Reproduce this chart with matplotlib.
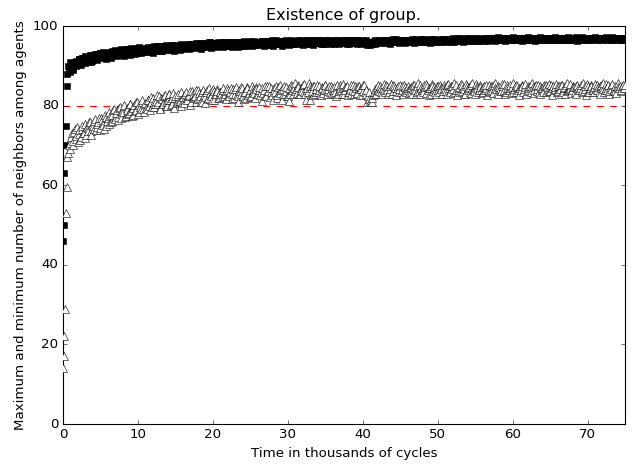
import numpy as np
import matplotlib
matplotlib.use("Agg")
import matplotlib.pyplot as plt

plt.style.use('classic')

# time in thousands of cycles
time_early = np.arange(0.0, 1.0, 0.1)          # 0.0 .. 0.9
time_a = np.linspace(1.0, 75.0, 371)           # 1.0, 1.2, ... 75.0
time_b = np.linspace(1.1, 74.9, 370)           # 1.1, 1.3, ... 74.9

max_early = [46, 50, 63, 70, 75, 85, 88, 90, 89.5, 91]
max_a = [
    88.5, 90.2, 89.4, 91.0, 89.9, 90.8, 91.6, 90.3, 91.9, 91.2, 90.7, 92.1, 91.5, 92.6, 91.0, 92.3, 91.8, 92.9, 91.4, 92.5, 93.1, 91.9, 92.7, 93.3, 92.2,
    92.8, 93.5, 91.9, 93.2, 92.6, 93.8, 92.4, 93.4, 94.0, 92.9, 93.6, 92.5, 94.1, 93.2, 93.9, 92.8, 94.3, 93.5, 93.0, 94.4, 93.3, 94.0, 93.1, 94.5, 93.7,
    94.2, 93.4, 94.7, 93.8, 94.4, 93.2, 94.9, 94.0, 93.6, 95.0, 94.3, 93.7, 94.8, 94.1, 95.2, 93.9, 94.6, 94.2, 95.3, 93.8, 94.9, 94.4, 95.1, 94.0, 95.4,
    94.3, 95.2, 94.6, 95.5, 94.1, 95.0, 94.7, 95.6, 94.4, 95.3, 94.8, 95.7, 94.2, 95.1, 95.8, 94.6, 95.4, 94.9, 95.9, 94.5, 95.3, 95.0, 95.8, 94.7, 95.5,
    95.0, 95.9, 94.6, 95.4, 95.8, 94.9, 96.0, 95.2, 94.7, 95.7, 95.3, 96.1, 94.8, 95.5, 95.9, 95.1, 96.0, 94.9, 95.6, 95.3, 96.2, 95.0, 95.8, 95.4, 96.1,
    95.2, 95.9, 95.5, 96.2, 94.9, 95.7, 96.3, 95.3, 95.8, 96.1, 95.0, 95.6, 96.4, 95.4, 95.9, 96.2, 95.1, 95.7, 96.3, 95.5, 96.0, 95.3, 96.4, 95.8, 95.6,
    96.1, 95.4, 96.4, 95.8, 96.2, 95.2, 96.0, 96.5, 95.6, 96.1, 95.9, 96.4, 95.3, 95.8, 96.3, 95.7, 96.5, 95.5, 96.0, 96.2, 95.4, 96.4, 95.9, 96.1, 95.6,
    96.3, 95.6, 96.0, 96.5, 95.5, 96.2, 95.9, 96.6, 95.7, 96.1, 96.4, 95.4, 96.0, 96.5, 95.8, 96.3, 95.6, 96.6, 96.0, 95.5, 96.2, 95.8, 96.4, 95.3, 95.7,
    95.2, 95.6, 96.0, 95.5, 96.3, 95.9, 96.5, 95.7, 96.2, 96.6, 95.8, 96.1, 96.4, 95.6, 96.3, 96.7, 95.9, 96.2, 96.5, 95.7, 96.4, 96.0, 96.6, 95.8, 96.3,
    96.5, 95.9, 96.3, 96.7, 95.8, 96.2, 96.6, 96.0, 96.4, 96.8, 95.9, 96.3, 96.5, 96.1, 96.7, 95.8, 96.4, 96.2, 96.8, 96.0, 96.5, 96.3, 96.7, 95.9, 96.4,
    96.6, 96.1, 96.8, 96.3, 96.5, 96.9, 96.0, 96.4, 96.7, 96.2, 96.9, 96.5, 96.1, 96.6, 97.0, 96.3, 96.7, 96.4, 96.9, 96.2, 96.6, 96.8, 96.3, 97.0, 96.5,
    96.8, 96.2, 96.7, 97.1, 96.4, 96.9, 96.5, 97.0, 96.3, 96.8, 97.2, 96.5, 96.9, 96.6, 97.1, 96.3, 96.7, 97.0, 96.4, 96.9, 97.2, 96.6, 96.8, 96.4, 97.1,
    96.7, 96.3, 97.0, 96.5, 96.9, 97.2, 96.4, 96.8, 96.6, 97.1, 96.3, 96.9, 96.7, 97.2, 96.5, 96.8, 97.0, 96.4, 96.9, 96.6, 97.1, 96.5, 96.8, 97.2, 96.6,
    96.9, 96.4, 97.1, 96.7, 96.5, 97.0, 96.8, 97.3, 96.4, 96.9, 96.6, 97.1, 96.8, 96.3, 97.0, 96.7, 97.2, 96.5, 96.9, 96.6, 97.1, 96.8, 96.4, 97.0, 96.7,
    97.2, 96.5, 96.9, 96.7, 97.1, 96.4, 96.8, 97.2, 96.6, 97.0, 96.7, 97.3, 96.5, 96.9, 96.6, 97.1, 96.8, 96.5, 97.0, 96.7, 96.9,
]
max_b = [
    89.8, 88.9, 90.6, 91.3, 90.1, 91.7, 90.5, 92.0, 91.1, 92.4, 91.6, 90.9, 92.2, 92.8, 91.3, 92.6, 93.0, 92.0, 92.4, 93.2, 92.1, 93.4, 92.6, 91.8, 93.0,
    93.3, 92.3, 93.7, 92.9, 94.0, 93.1, 93.6, 92.7, 94.2, 93.4, 93.9, 92.9, 94.3, 93.6, 93.1, 94.5, 93.8, 93.3, 94.2, 93.6, 94.6, 93.5, 94.1, 93.4, 94.3,
    93.7, 94.5, 94.0, 93.5, 94.8, 94.3, 93.9, 95.0, 94.2, 94.6, 93.8, 95.1, 94.5, 94.1, 95.0, 94.4, 93.9, 95.2, 94.7, 94.3, 95.3, 94.6, 94.2, 95.0, 94.8,
    94.9, 94.4, 95.3, 94.8, 95.6, 94.5, 95.2, 94.9, 95.7, 94.6, 95.4, 95.0, 95.8, 94.7, 95.3, 95.6, 94.9, 95.9, 95.2, 94.8, 95.7, 95.4, 95.0, 95.9, 95.3,
    95.5, 95.1, 96.0, 95.3, 95.7, 95.0, 95.9, 95.5, 96.1, 95.2, 95.8, 95.4, 96.0, 95.1, 95.7, 96.2, 95.3, 95.6, 96.0, 95.2, 95.9, 95.5, 96.2, 95.3, 95.7,
    96.0, 95.4, 96.2, 95.6, 95.9, 96.3, 95.2, 96.0, 95.5, 96.4, 95.7, 96.1, 95.4, 96.3, 95.8, 95.5, 96.2, 95.9, 96.4, 95.6, 96.1, 95.8, 96.3, 95.4, 96.0,
    95.7, 96.3, 95.9, 96.5, 95.6, 96.2, 95.8, 96.4, 96.0, 95.5, 96.3, 95.9, 96.6, 95.7, 96.1, 96.4, 95.8, 96.2, 95.6, 96.5, 96.0, 95.8, 96.3, 95.7, 96.4,
    95.9, 96.4, 96.1, 95.7, 96.3, 96.0, 96.5, 95.8, 96.2, 95.6, 96.4, 96.1, 95.9, 96.6, 96.2, 95.7, 96.4, 96.1, 95.8, 96.5, 96.0, 96.3, 95.6, 96.1, 95.5,
    95.4, 95.9, 96.2, 96.4, 95.8, 96.1, 96.3, 96.0, 96.5, 95.9, 96.4, 96.2, 95.8, 96.6, 96.1, 96.4, 96.0, 96.7, 96.2, 96.5, 95.9, 96.3, 96.1, 96.6, 96.0,
    96.2, 96.6, 96.1, 96.4, 96.0, 96.7, 96.3, 96.5, 96.1, 96.4, 96.7, 96.2, 96.0, 96.6, 96.4, 96.2, 96.7, 96.5, 96.1, 96.6, 96.3, 96.0, 96.5, 96.8, 96.2,
    96.4, 96.7, 96.3, 96.6, 96.1, 96.8, 96.5, 96.2, 96.9, 96.4, 96.7, 96.3, 96.8, 96.5, 96.2, 96.9, 96.6, 96.3, 96.7, 96.5, 96.9, 96.4, 96.7, 96.2, 96.8,
    96.5, 96.9, 96.6, 96.3, 97.0, 96.7, 96.4, 96.9, 96.6, 97.1, 96.4, 96.7, 96.9, 96.5, 96.8, 97.0, 96.4, 96.8, 96.6, 97.1, 96.5, 96.9, 96.7, 97.0, 96.6,
    96.9, 96.6, 96.8, 97.1, 96.5, 96.9, 97.0, 96.6, 96.8, 96.4, 97.0, 96.7, 96.9, 96.5, 97.1, 96.8, 96.6, 97.0, 96.7, 96.9, 96.4, 97.0, 96.7, 96.9, 97.1,
    96.6, 96.9, 96.7, 97.0, 96.5, 96.8, 97.1, 96.6, 97.0, 96.8, 96.5, 96.9, 97.2, 96.7, 96.9, 96.5, 97.0, 96.8, 97.1, 96.7, 96.9, 96.6, 97.1, 96.8, 97.0,
    96.8, 97.0, 96.6, 97.1, 96.8, 97.0, 96.7, 96.9, 97.1, 96.8, 96.5, 97.0, 96.9, 96.7, 97.1, 96.8, 97.0, 96.6, 96.9, 97.1,
]

min_early = [14, 17, 22, 29, 53, 59.5, 67, 68, 70, 69]
min_a = [
    70.5, 73.0, 71.2, 74.1, 72.3, 70.9, 73.8, 72.0, 75.0, 73.2, 71.8, 74.6, 73.5, 75.8, 72.7, 74.9, 76.2, 73.9, 75.4, 77.0, 74.3, 76.5, 75.1, 77.6, 74.8,
    76.8, 78.4, 75.9, 77.7, 79.2, 76.6, 78.8, 77.2, 79.6, 76.9, 78.3, 80.1, 77.5, 79.0, 78.1, 80.4, 77.3, 79.5, 78.6, 80.8, 77.9, 80.2, 79.1, 81.3, 78.4,
    80.6, 79.2, 81.5, 78.8, 80.9, 82.0, 79.6, 81.2, 80.3, 82.4, 79.1, 81.7, 80.5, 82.6, 79.9, 81.3, 82.9, 80.2, 81.8, 79.4, 82.5, 80.8, 83.0, 81.1, 79.8,
    82.2, 80.6, 83.3, 81.4, 82.7, 80.1, 83.6, 81.9, 82.4, 80.8, 83.8, 82.0, 81.2, 83.4, 82.6, 80.7, 84.0, 81.8, 83.1, 82.3, 84.2, 81.5, 82.9, 83.7, 81.9,
    83.5, 82.1, 84.3, 82.8, 81.6, 83.9, 82.4, 84.5, 83.0, 81.9, 84.1, 82.7, 80.9, 83.6, 84.6, 82.5, 83.3, 81.8, 84.4, 83.1, 82.2, 84.8, 83.5, 82.0, 84.2,
    82.8, 84.6, 83.4, 81.2, 84.0, 82.5, 85.0, 83.7, 82.2, 84.5, 81.3, 83.9, 84.9, 82.7, 83.5, 85.1, 81.4, 84.2, 83.0, 84.7, 82.4, 81.2, 85.2, 83.8, 84.3,
    85.6, 83.2, 84.6, 82.9, 84.0, 85.3, 83.5, 81.3, 84.4, 85.7, 81.4, 83.7, 84.9, 82.8, 84.2, 83.3, 85.0, 82.6, 84.5, 83.9, 85.2, 82.9, 84.1, 83.4, 84.8,
    83.1, 84.7, 82.5, 85.1, 83.6, 84.3, 82.8, 85.4, 83.9, 84.6, 82.7, 83.5, 85.2, 84.0, 82.9, 84.8, 83.3, 85.0, 82.6, 84.2, 83.7, 85.3, 82.8, 81.0, 83.4,
    81.2, 80.9, 82.6, 84.1, 83.0, 85.2, 83.7, 84.5, 82.8, 85.4, 83.4, 84.8, 82.9, 84.2, 85.5, 83.6, 84.9, 82.7, 84.4, 83.3, 85.1, 83.9, 82.8, 84.6, 83.5,
    85.0, 83.2, 84.7, 82.9, 85.3, 84.0, 83.5, 85.6, 82.8, 84.4, 83.8, 85.2, 83.1, 84.9, 82.6, 84.3, 85.5, 83.7, 84.1, 82.9, 85.0, 83.4, 84.6, 83.0, 85.3,
    84.2, 82.8, 85.4, 83.6, 84.8, 83.1, 85.7, 84.0, 82.7, 84.5, 83.3, 85.1, 84.3, 82.9, 85.5, 83.8, 84.6, 83.2, 85.8, 84.1, 82.8, 84.9, 83.5, 85.2, 84.0,
    83.3, 85.0, 84.4, 82.7, 85.3, 83.7, 84.8, 83.1, 85.6, 84.2, 82.9, 84.7, 83.6, 85.4, 84.0, 82.8, 85.1, 83.9, 84.5, 83.2, 85.7, 84.1, 83.4, 84.9, 82.6,
    84.3, 85.2, 83.5, 84.7, 82.9, 85.0, 83.8, 84.4, 85.6, 83.2, 84.8, 83.6, 85.3, 82.8, 84.5, 83.9, 85.1, 83.3, 84.6, 85.5, 83.7, 82.7, 84.9, 84.2, 85.4,
    83.6, 84.8, 83.0, 85.2, 84.3, 82.9, 85.6, 83.8, 84.5, 83.2, 85.0, 84.6, 82.8, 85.3, 83.9, 84.4, 83.4, 85.7, 84.1, 82.7, 84.8, 83.5, 85.2, 84.0, 83.3,
    85.4, 83.8, 84.6, 82.9, 85.1, 84.2, 83.4, 85.5, 84.0, 82.8, 84.7, 85.3, 83.6, 84.9, 83.1, 85.6, 84.3, 83.7, 85.0, 84.4, 85.2,
]
min_b = [
    72.1, 70.2, 73.4, 71.6, 74.5, 72.8, 71.4, 74.0, 73.0, 75.4, 72.5, 74.3, 76.0, 73.6, 75.2, 74.1, 76.6, 74.6, 75.8, 73.8, 76.9, 75.6, 74.2, 77.2, 76.1,
    75.3, 77.5, 76.2, 78.9, 77.0, 78.1, 76.4, 79.4, 77.8, 78.6, 80.0, 77.1, 79.3, 78.0, 80.5, 78.7, 77.6, 80.2, 79.0, 80.9, 78.3, 79.7, 81.0, 79.2, 80.4,
    79.5, 81.3, 80.0, 82.2, 79.7, 81.0, 80.4, 82.7, 80.9, 79.3, 81.9, 80.6, 82.3, 81.0, 80.0, 82.8, 81.5, 80.4, 83.1, 81.8, 80.7, 82.4, 81.2, 83.3, 80.9,
    81.3, 83.0, 81.9, 82.5, 83.7, 81.0, 82.8, 82.1, 84.0, 81.6, 83.2, 82.4, 80.9, 83.9, 82.2, 83.5, 81.7, 84.3, 82.7, 81.4, 83.6, 82.8, 84.1, 82.0, 83.3,
    82.9, 84.0, 82.3, 83.7, 84.5, 82.6, 83.4, 81.7, 84.2, 83.0, 84.7, 82.4, 83.8, 82.9, 84.3, 81.6, 83.5, 84.6, 82.7, 83.9, 82.5, 84.1, 83.2, 84.7, 82.8,
    83.9, 82.6, 84.4, 83.1, 84.8, 82.3, 83.6, 84.9, 83.3, 82.7, 84.3, 83.5, 81.8, 84.6, 83.2, 84.0, 82.9, 85.0, 83.6, 82.5, 84.4, 83.0, 84.9, 82.8, 83.7,
    84.2, 85.1, 83.0, 84.5, 83.6, 85.4, 82.9, 84.0, 83.4, 85.0, 84.3, 82.7, 84.8, 83.5, 85.3, 83.9, 82.8, 84.6, 83.2, 85.1, 84.0, 83.6, 84.9, 82.9, 84.4,
    84.0, 83.3, 84.9, 82.9, 85.2, 83.8, 84.5, 83.0, 84.7, 85.0, 83.4, 84.2, 82.8, 85.3, 83.6, 84.4, 83.1, 84.9, 84.1, 82.7, 85.1, 83.5, 84.0, 82.4, 81.6,
    80.8, 81.9, 83.5, 82.8, 84.6, 83.9, 85.0, 83.3, 84.5, 83.8, 85.1, 84.0, 83.5, 84.9, 83.0, 85.2, 84.3, 83.7, 85.0, 84.1, 83.4, 84.8, 85.3, 83.6, 84.4,
    83.9, 84.5, 83.4, 85.1, 84.2, 82.9, 84.8, 83.6, 85.2, 84.0, 83.3, 84.7, 85.4, 83.8, 84.3, 83.0, 85.0, 84.6, 83.5, 84.9, 83.8, 85.3, 84.1, 83.6, 84.5,
    83.7, 85.1, 84.4, 83.3, 84.9, 84.1, 83.5, 85.3, 83.9, 84.6, 85.5, 83.6, 84.2, 83.0, 85.0, 84.5, 83.4, 85.2, 84.0, 83.6, 85.4, 84.3, 83.8, 84.7, 83.2,
    84.6, 83.9, 85.2, 84.0, 83.4, 84.9, 83.8, 85.3, 84.4, 83.2, 85.0, 84.2, 83.7, 84.8, 85.5, 83.5, 84.3, 83.9, 85.1, 84.6, 83.3, 84.7, 85.2, 83.8, 84.4,
    83.8, 84.9, 84.1, 85.4, 83.6, 84.3, 85.0, 83.4, 84.7, 83.9, 85.2, 84.2, 83.5, 85.0, 84.4, 83.3, 84.8, 85.3, 84.0, 83.6, 85.1, 84.5, 83.9, 84.7, 83.4,
    84.9, 84.1, 85.3, 83.5, 84.6, 85.1, 83.7, 84.2, 85.4, 83.9, 84.7, 83.3, 85.0, 84.4, 83.8, 85.2, 84.0, 83.6, 84.9, 85.5, 83.4, 84.3, 85.0, 83.9, 84.6,
    84.1, 85.2, 83.5, 84.8, 84.3, 85.6, 83.9, 84.5, 85.1, 83.7, 84.2, 85.4, 84.0, 83.6, 85.0, 84.6, 84.9, 83.8, 85.3, 84.4,
]

threshold = 80

time = np.concatenate([time_early, time_a, time_b])
max_neighbors = np.array(max_early + max_a + max_b)
min_neighbors = np.array(min_early + min_a + min_b)
order = np.argsort(time, kind='stable')
time = time[order]
max_neighbors = max_neighbors[order]
min_neighbors = min_neighbors[order]

fig = plt.figure(figsize=(7.9, 5.8), dpi=80)
ax = fig.add_axes([63/632, 1 - 424/464, (625 - 63)/632, (424 - 26)/464])

ax.axhline(threshold, color='r', linestyle='--', linewidth=1, zorder=1)
ax.plot(time, max_neighbors, 's', color='k', markersize=6, markeredgecolor='k', zorder=2)
ax.plot(time, min_neighbors, '^', markerfacecolor='w', markeredgecolor='k', markersize=6.5, zorder=3)

ax.set_xlim(0, 75)
ax.set_ylim(0, 100)
ax.set_xticks([0, 10, 20, 30, 40, 50, 60, 70])
ax.set_yticks([0, 20, 40, 60, 80, 100])
ax.set_xlabel('Time in thousands of cycles')
ax.set_ylabel('Maximum and minimum number of neighbors among agents')
ax.set_title('Existence of group.')

fig.savefig('out.png', dpi=80)
